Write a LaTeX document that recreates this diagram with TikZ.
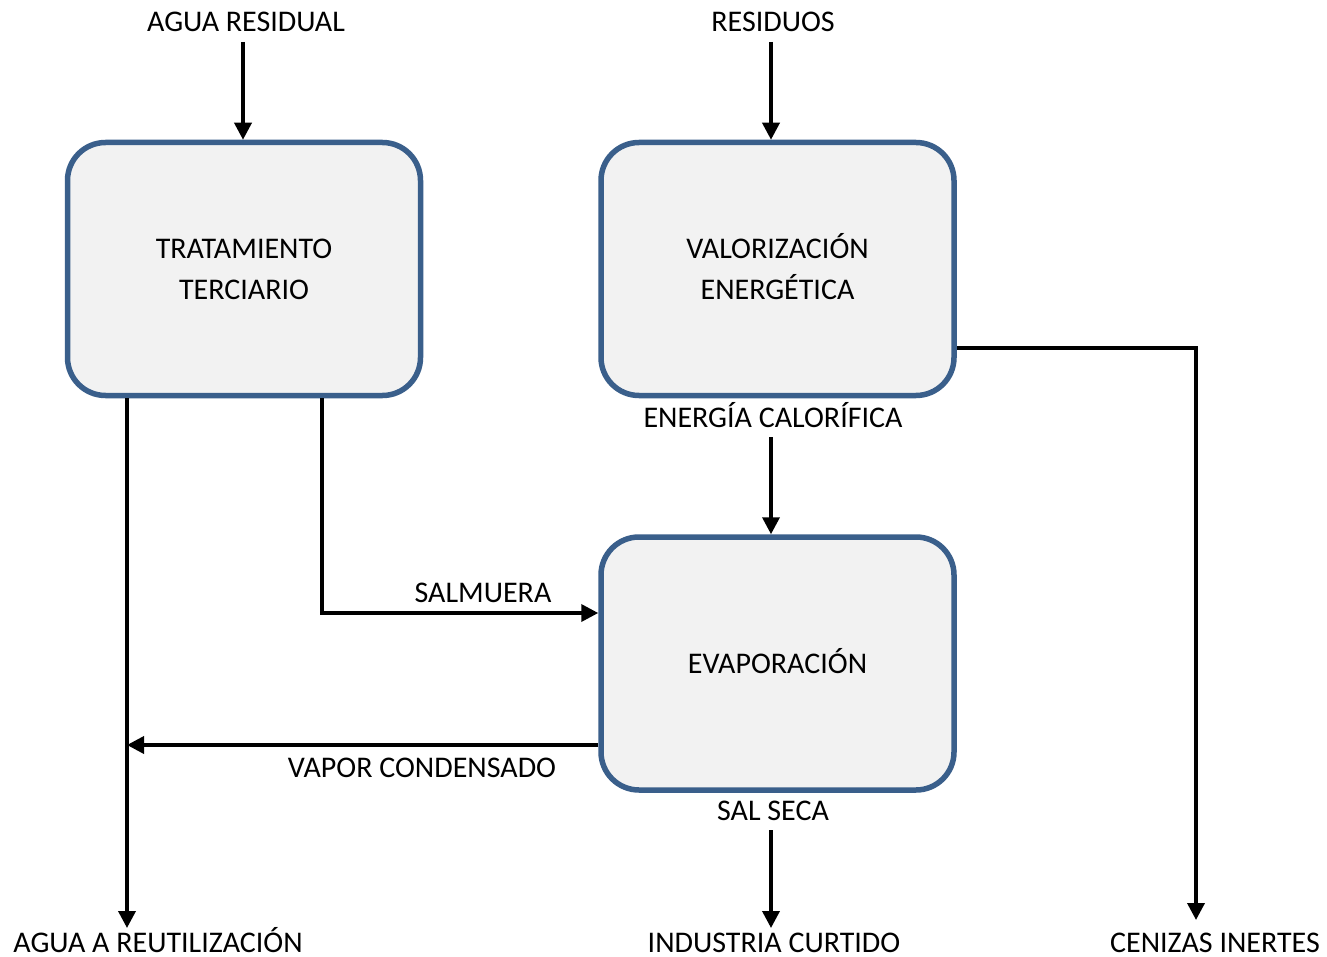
\documentclass[tikz,border=0pt]{standalone}
\usepackage{fontspec}
\setmainfont{Carlito}
\usetikzlibrary{arrows.meta}
\definecolor{boxborder}{HTML}{3A5F8B}
\definecolor{boxfill}{HTML}{F2F2F2}
\begin{document}
\begin{tikzpicture}[x=1pt,y=-1pt,
  proc/.style={draw=boxborder, fill=boxfill, line width=5.5pt, rounded corners=38pt,
    minimum width=353pt, minimum height=253pt, inner sep=0pt, outer sep=2.75pt,
    align=center, font=\fontsize{30}{41}\selectfont},
  lbl/.style={inner sep=0pt, anchor=base, font=\fontsize{30}{36}\selectfont},
  arr/.style={line width=3.6pt, -{Triangle[length=17pt,width=17pt]}}]
\useasboundingbox[fill=white] (0,0) rectangle (1327,957);
% process boxes
\node[proc] (t1) at (244,269) {TRATAMIENTO\\TERCIARIO};
\node[proc] (t2) at (777.5,269) {VALORIZACI\smash{Ó}N\\ENERG\smash{É}TICA};
\node[proc] (t3) at (777.5,663.5) {EVAPORACI\smash{Ó}N};
% labels
\node[lbl] (lar) at (246,32) {AGUA RESIDUAL};
\node[lbl] (lres) at (773,32) {RESIDUOS};
\node[lbl] (lec) at (773,427) {ENERG\smash{Í}A CALOR\smash{Í}FICA};
\node[lbl] (lsal) at (483,602) {SALMUERA};
\node[lbl] (lvap) at (422,777) {VAPOR CONDENSADO};
\node[lbl] (lss) at (773,820) {SAL SECA};
\node[lbl] (laar) at (158,952) {AGUA A REUTILIZACI\smash{Ó}N};
\node[lbl] (lic) at (774,952) {INDUSTRIA CURTIDO};
\node[lbl] (lci) at (1215,952) {CENIZAS INERTES};
% connector points
\coordinate (arS) at (243,42);
\coordinate (resS) at (771,42);
\coordinate (ecS) at (771,437);
\coordinate (ssS) at (771,830);
\coordinate (ssE) at (771,928);
\coordinate (r1) at (127,928);
\coordinate (s1) at (322,613);
\coordinate (v1) at (127,745);
\coordinate (c1) at (1196,348);
\coordinate (c2) at (1196,920);
% connectors
\draw[arr] (arS) -- (arS |- t1.north);
\draw[arr] (resS) -- (resS |- t2.north);
\draw[arr] (ecS) -- (ecS |- t3.north);
\draw[arr] (ssS) -- (ssE);
\draw[arr] (r1 |- t1.south) -- (r1);
\draw[arr] (s1 |- t1.south) -- (s1) -- (s1 -| t3.west);
\draw[arr] (v1 -| t3.west) -- (v1);
\draw[arr] (c1 -| t2.east) -- (c1) -- (c2);
\end{tikzpicture}
\end{document}
